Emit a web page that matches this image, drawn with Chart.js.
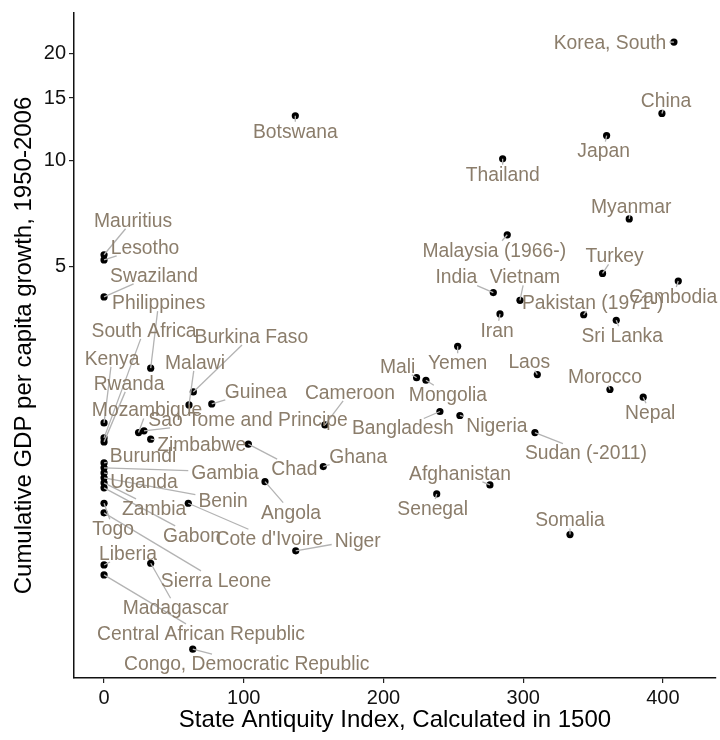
<!DOCTYPE html>
<html lang="en">
<head>
<meta charset="UTF-8">
<title>State antiquity and growth</title>
<script src="https://cdn.jsdelivr.net/npm/chart.js@4"></script>
<style>
  html, body { margin: 0; padding: 0; background: #fff; overflow: hidden; }
  canvas { display: block; }
</style>
</head>
<body>
<canvas id="chart" width="720" height="740"></canvas>
<script>
// data
const countries = [
  'Korea, South', 'China', 'Japan', 'Thailand', 'Botswana', 'Myanmar', 'Malaysia (1966-)',
  'Turkey', 'Cambodia', 'India', 'Vietnam', 'Pakistan (1971-)', 'Iran', 'Sri Lanka', 'Yemen',
  'Mali', 'Mongolia', 'Laos', 'Morocco', 'Nepal', 'Bangladesh', 'Nigeria', 'Sudan (-2011)',
  'Afghanistan', 'Senegal', 'Somalia', 'Cameroon', 'Ghana', 'Chad', 'Angola', 'Niger',
  "Cote d'Ivoire", 'Congo, Democratic Republic', 'Philippines', 'Burkina Faso', 'Malawi',
  'Guinea', 'Mozambique', 'Sao Tome and Principe', 'Zimbabwe', 'Madagascar', 'Mauritius',
  'Lesotho', 'Swaziland', 'Kenya', 'South Africa', 'Rwanda', 'Burundi', 'Gambia', 'Uganda',
  'Benin', 'Zambia', 'Gabon', 'Togo', 'Sierra Leone', 'Liberia', 'Central African Republic'
];
const antiquity = [
  407.9, 399.3, 359.7, 285.3, 136.9, 375.9, 288.6,
  356.8, 411.0, 278.6, 297.7, 343.3, 283.4, 366.6, 253.1,
  223.7, 230.4, 310.1, 362.1, 385.9, 240.4, 254.7, 308.4,
  276.2, 238.1, 333.5, 158.1, 156.9, 103.3, 115.2, 137.2,
  60.3, 63.5, 33.4, 63.9, 60.8,
  77.1, 24.7, 28.6, 33.4, 33.4, 0,
  0, 0, 0, 0, 0, 0, 0, 0,
  0, 0, 0, 0, 0, 0, 0
];
const growth = [
  21.6, 13.57, 11.75, 10.1, 13.37, 6.83, 6.16,
  4.79, 4.56, 4.23, 4.02, 3.66, 3.68, 3.53, 2.98,
  2.43, 2.39, 2.48, 2.25, 2.14, 1.95, 1.90, 1.70,
  1.209, 1.140, 0.875, 1.787, 1.362, 1.576, 1.235, 0.787,
  1.073, 0.415, 2.585, 2.215, 2.035,
  2.049, 1.700, 1.719, 1.628, 0.726, 5.41,
  5.23, 4.11, 1.810, 1.642, 1.600, 1.395, 1.351, 1.307,
  1.266, 1.225, 1.186, 1.073, 1.008, 0.718, 0.673
];
const xTicks = [0, 100, 200, 300, 400];
const yTicks = [5, 10, 15, 20];

// where each label sits, px from its point to the label centre (hand repelled)
const labelDx = [
  -64, 4, -3, 0, 0, 2, -13,
  12, -5, -37, 5, 9, -3, 6, 0,
  -19, 22, -8, -5, 7, -37, 37, 51,
  -30, -4, 0, 25, 35, 46, 26, 62,
  81, 54, 8, 58, 6,
  44, 8.5, 104, 51, 25, 29,
  41, 50, 8, 40, 25, 39, 121, 40,
  119, 50, 88, 9, 112, 24, 97
];
const labelDy = [
  0, -13, 15, 15, 15, -13, 15,
  -18, 15, -16, -24, -13, 16, 15, 16,
  -12, 14, -13, -13, 15, 16, 10, 20,
  -12, 14, -15, -33, -11, 24, 30, -11,
  35, 14, -66, -56, -43,
  -13, -23, -12, 5, 44, -35,
  -13, -22, -65, -108, -59, -8, 4, 8,
  22, 25, 47, 25, 67, -12, 58
];

const FONT = '"Liberation Sans", Arial, Helvetica, sans-serif';
const labelColor = '#8B7D6B';
const segColor = '#B3B3B3';

const repelLabels = {
  id: 'repelLabels',
  afterDatasetsDraw(chart) {
    const ctx = chart.ctx;
    const xs = chart.scales.x, ys = chart.scales.y;
    ctx.save();
    ctx.font = '19.3px ' + FONT;
    const items = countries.map((name, i) => {
      const px = xs.getPixelForValue(antiquity[i]);
      const py = ys.getPixelForValue(growth[i]);
      return { name, px, py, cx: px + labelDx[i], cy: py + labelDy[i], w: ctx.measureText(name).width };
    });
    // segments: from the point towards the label centre, stopped at the padded box
    ctx.strokeStyle = segColor;
    ctx.lineWidth = 1.3;
    items.forEach(it => {
      const dx = it.cx - it.px, dy = it.cy - it.py;
      const hw = it.w / 2 + 3, hh = 9;
      const k = Math.min(dx ? hw / Math.abs(dx) : Infinity, dy ? hh / Math.abs(dy) : Infinity);
      const s = Math.max(0, 1 - k);
      const len = s * Math.hypot(dx, dy);
      if (len > 2.5) {
        ctx.beginPath();
        ctx.moveTo(it.px, it.py);
        ctx.lineTo(it.px + s * dx, it.py + s * dy);
        ctx.stroke();
      }
    });
    ctx.fillStyle = labelColor;
    ctx.textAlign = 'center';
    ctx.textBaseline = 'alphabetic';
    items.forEach(it => {
      ctx.fillText(it.name, it.cx, it.cy + 6.9);
    });
    ctx.restore();
  }
};

// chart area ends up 74..715 px wide, so the x range is set to put 0 at 104 and 400 at 662
new Chart(document.getElementById('chart'), {
  type: 'scatter',
  data: {
    datasets: [{
      data: antiquity.map((x, i) => ({ x: x, y: growth[i] })),
      backgroundColor: '#000',
      borderWidth: 0,
      pointRadius: 3.6
    }]
  },
  options: {
    responsive: false,
    animation: false,
    devicePixelRatio: 1,
    layout: { padding: { top: 13, right: 1, left: 0, bottom: 0 } },
    plugins: { legend: { display: false }, tooltip: { enabled: false } },
    scales: {
      x: {
        type: 'linear',
        min: -21.5,
        max: 438,
        afterBuildTicks: s => {
          s.ticks = xTicks.map(v => ({ value: v }));
          s.min = -21.5; s.max = 438;
        },
        afterFit: s => { s.height = 62; s.paddingLeft = 0; s.paddingRight = 0; },
        grid: { drawOnChartArea: false, drawTicks: true, tickLength: 5, color: '#222', lineWidth: 1.2 },
        border: { display: true, color: '#111', width: 1.5 },
        ticks: { color: '#111', autoSkip: false, maxRotation: 0, padding: 3, font: { size: 20, family: FONT } },
        title: {
          display: true, text: 'State Antiquity Index, Calculated in 1500', color: '#000',
          font: { size: 24, family: FONT }, padding: { top: 0, bottom: 5 }
        }
      },
      y: {
        type: 'logarithmic',
        min: 0.344,
        max: 26.1,
        afterBuildTicks: s => {
          s.ticks = yTicks.map(v => ({ value: v }));
          s.min = 0.344; s.max = 26.1;
        },
        afterFit: s => { s.width = 74; s.paddingTop = 0; s.paddingBottom = 0; },
        grid: { drawOnChartArea: false, drawTicks: true, tickLength: 5, color: '#222', lineWidth: 1.2 },
        border: { display: true, color: '#111', width: 1.5 },
        ticks: { color: '#111', padding: 3, font: { size: 20, family: FONT }, callback: v => String(v) },
        title: {
          display: true, text: 'Cumulative GDP per capita growth, 1950-2006', color: '#000',
          font: { size: 24, family: FONT }, padding: { top: 10, bottom: 0 }
        }
      }
    }
  },
  plugins: [repelLabels]
});
</script>
</body>
</html>
